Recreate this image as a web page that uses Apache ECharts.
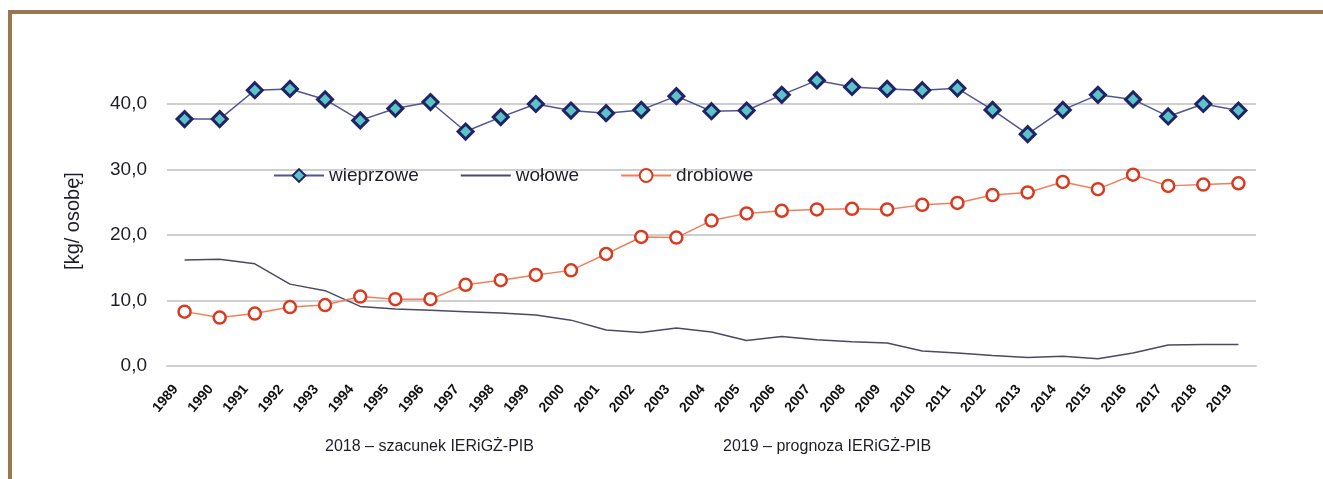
<!DOCTYPE html>
<html>
<head>
<meta charset="utf-8">
<script src="https://cdn.jsdelivr.net/npm/echarts@6/dist/echarts.min.js"></script>
<style>
  html, body { margin: 0; padding: 0; background: #fff; }
  #chart { width: 1323px; height: 479px; }
</style>
</head>
<body>
<div id="chart"></div>
<script>
// lata
const years = ['1989', '1990', '1991', '1992', '1993', '1994', '1995', '1996', '1997', '1998',
  '1999', '2000', '2001', '2002', '2003', '2004', '2005', '2006', '2007', '2008',
  '2009', '2010', '2011', '2012', '2013', '2014', '2015', '2016', '2017', '2018', '2019']
// spożycie mięsa [kg/osobę]
const wieprzowe = [37.7, 37.7, 42.1, 42.3, 40.7, 37.5, 39.3, 40.3, 35.8, 38.0,
  40.0, 39.0, 38.6, 39.1, 41.2, 38.9, 39.0, 41.4, 43.6, 42.6,
  42.3, 42.1, 42.4, 39.1, 35.4, 39.1, 41.4, 40.7, 38.1, 40.0, 39.0]
const wolowe = [16.2, 16.3, 15.6, 12.5, 11.5, 9.1, 8.7, 8.5, 8.3, 8.1,
  7.8, 7.0, 5.5, 5.1, 5.8, 5.2, 3.9, 4.5, 4.0, 3.7,
  3.5, 2.3, 2.0, 1.6, 1.3, 1.5, 1.1, 2.0, 3.2, 3.3, 3.3]
const drobiowe = [8.3, 7.4, 8.0, 9.0, 9.3, 10.6, 10.2, 10.2, 12.4, 13.1,
  13.9, 14.6, 17.1, 19.7, 19.6, 22.2, 23.3, 23.7, 23.9, 24.0,
  23.9, 24.6, 24.9, 26.1, 26.5, 28.1, 27.0, 29.2, 27.5, 27.7, 27.9]
const yTicks = [0, 10, 20, 30, 40]
const notes = ['2018 – szacunek IERiGŻ-PIB', '2019 – prognoza IERiGŻ-PIB']

const font = '"Liberation Sans", Arial, sans-serif'
const chart = echarts.init(document.getElementById('chart'))

const option = {
  backgroundColor: '#fff',
  animation: false,
  textStyle: { fontFamily: font },
  grid: { left: 167, right: 67, top: 104, bottom: 113 },
  legend: {
    left: 268,
    top: 161,
    itemWidth: 50,
    itemHeight: 16,
    itemGap: 41,
    textStyle: { fontSize: 19, color: '#1e1e2a', fontFamily: font },
    data: [
      { name: 'wieprzowe' },
      { name: 'wołowe', itemStyle: { opacity: 0 } },
      { name: 'drobiowe' }
    ]
  },
  xAxis: {
    type: 'category',
    data: years,
    boundaryGap: true,
    axisTick: { show: false },
    axisLine: { lineStyle: { color: '#cfcfcf', width: 2 } },
    axisLabel: {
      rotate: 50,
      interval: 0,
      margin: 10,
      padding: [0, 14, 0, 0],
      fontSize: 14,
      fontWeight: 'bold',
      color: '#111',
      fontFamily: font
    }
  },
  yAxis: {
    type: 'value',
    min: yTicks[0],
    max: yTicks[yTicks.length - 1],
    interval: 10,
    name: '[kg/ osobę]',
    nameLocation: 'middle',
    nameGap: 84,
    nameTextStyle: { fontSize: 20, color: '#1e1e2a', fontFamily: font, padding: [0, 0, 0, 28] },
    axisLine: { show: false },
    axisTick: { show: false },
    splitLine: { lineStyle: { color: '#cfcfcf', width: 2 } },
    axisLabel: {
      margin: 20,
      fontSize: 19,
      color: '#1e1e2a',
      fontFamily: font,
      formatter: v => v.toFixed(1).replace('.', ',')
    }
  },
  series: [
    {
      name: 'wieprzowe',
      type: 'line',
      data: wieprzowe,
      clip: false,
      symbol: 'diamond',
      symbolSize: 15,
      lineStyle: { color: '#525690', width: 1.5 },
      itemStyle: { color: '#5cc4c6', borderColor: '#1f2468', borderWidth: 3 }
    },
    {
      name: 'wołowe',
      type: 'line',
      data: wolowe,
      symbol: 'none',
      lineStyle: { color: '#4a4a66', width: 1.5 },
      itemStyle: { color: '#4a4a66' }
    },
    {
      name: 'drobiowe',
      type: 'line',
      data: drobiowe,
      symbol: 'circle',
      symbolSize: 12,
      lineStyle: { color: '#f0805a', width: 1.5 },
      itemStyle: { color: '#fff', borderColor: '#d93a20', borderWidth: 2.5 }
    }
  ],
  graphic: [
    { type: 'rect', shape: { x: 8, y: 10, width: 1315, height: 4 }, style: { fill: '#9b7652' } },
    { type: 'rect', shape: { x: 8, y: 10, width: 4, height: 469 }, style: { fill: '#9b7652' } },
    {
      type: 'text', left: 325, top: 439,
      style: { text: notes[0], fill: '#1e1e2a', font: '16px ' + font }
    },
    {
      type: 'text', left: 723, top: 439,
      style: { text: notes[1], fill: '#1e1e2a', font: '16px ' + font }
    }
  ]
}
chart.setOption(option)
</script>
</body>
</html>
